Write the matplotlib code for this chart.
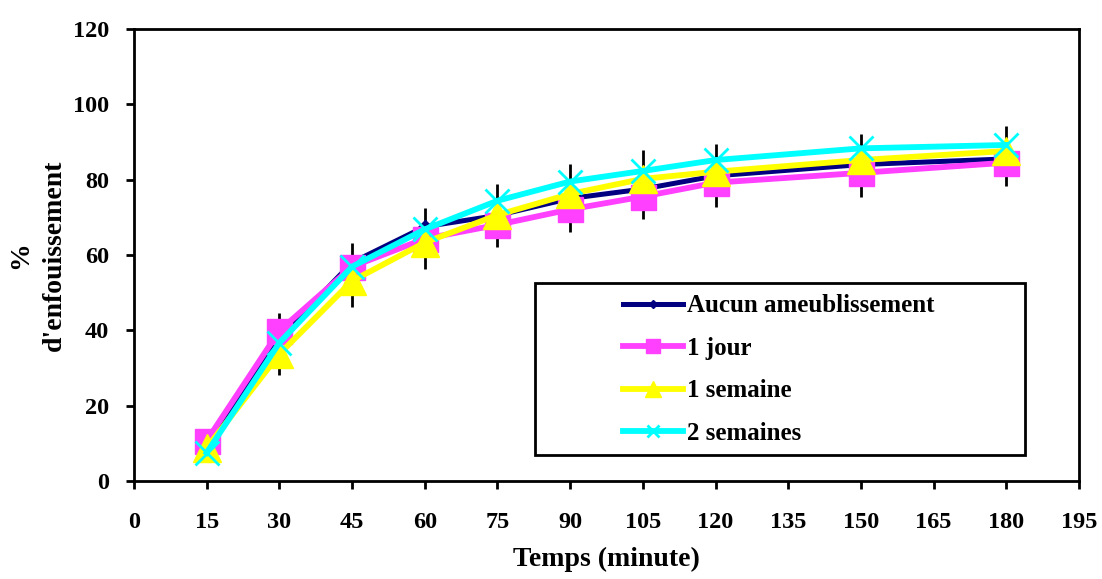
import matplotlib.pyplot as plt
from matplotlib.patches import Rectangle

# time points (minutes)
temps = [15, 30, 45, 60, 75, 90, 105, 120, 150, 180]

# % d'enfouissement for each treatment
aucun = [9, 38, 58, 67.5, 70.5, 75, 77.5, 81, 84, 85.5]
un_jour = [10.7, 39.9, 56.9, 64.3, 68, 72.1, 75.5, 79.2, 81.8, 84.5]
une_semaine = [8.8, 33.7, 53.1, 63.3, 70.6, 76.2, 80.2, 82.1, 85.2, 87.6]
deux_semaines = [7.5, 36.7, 56.9, 66.8, 74.4, 79.5, 82.3, 85.2, 88.3, 89.2]

# error bar ends
err_bas = [5.5, 28.1, 46.1, 56.2, 62.1, 66.2, 69.5, 72.7, 75.3, 78.4]
err_haut = [10, 44.7, 63.3, 72.4, 78.8, 84.2, 87.9, 89.5, 92.0, 94.2]

labels = ['Aucun ameublissement', '1 jour', '1 semaine', '2 semaines']
xticks = list(range(0, 196, 15))
yticks = list(range(0, 121, 20))

plt.rcParams['font.family'] = ['Liberation Serif', 'DejaVu Serif']
plt.rcParams['font.weight'] = 'bold'
plt.rcParams['axes.labelweight'] = 'bold'
plt.rcParams['font.size'] = 17.5

fig = plt.figure(figsize=(11.02, 5.79), dpi=100)
ax = fig.add_axes([0.1216, 0.1693, 0.8575, 0.7807])

ax.vlines(temps, err_bas, err_haut, colors='black', linewidth=2, zorder=1)
ax.plot(temps, aucun, color='#000080', linewidth=3.6, marker='D', markersize=7, label=labels[0], zorder=2)
ax.plot(temps, un_jour, color='#ff40ff', linewidth=4.2, marker='s', markersize=18, label=labels[1], zorder=3)
ax.plot(temps, une_semaine, color='#ffff00', linewidth=4.2, marker='^', markersize=20, label=labels[2], zorder=4)
ax.plot(temps, deux_semaines, color='#00ffff', linewidth=4.2, marker='x', markersize=17,
        markeredgewidth=2, label=labels[3], zorder=5)

ax.set_xlim(0, 195)
ax.set_ylim(0, 120)
ax.set_xticks(xticks)
ax.set_yticks(yticks)
ax.tick_params(direction='out', length=6, width=2)
ax.tick_params(axis='x', pad=16)
ax.tick_params(axis='y', pad=12)
for s in ax.spines.values():
    s.set_linewidth(2)

ax.set_xlabel('Temps (minute)', fontsize=20, labelpad=10)
ax.set_ylabel("%\nd'enfouissement", fontsize=20, labelpad=4, linespacing=1.5)

# legend box
ax.add_patch(Rectangle((0.4243, 0.0575), 0.5187, 0.3805, transform=ax.transAxes,
                       fill=False, edgecolor='black', linewidth=2, zorder=6))
leg = ax.legend(loc='upper left', bbox_to_anchor=(0.5175, 0.413), frameon=False, fontsize=18,
                borderpad=0, borderaxespad=0, handlelength=2.4, handletextpad=0.16,
                labelspacing=0.78, markerscale=0.55)

fig.savefig('out.png', dpi=100)
